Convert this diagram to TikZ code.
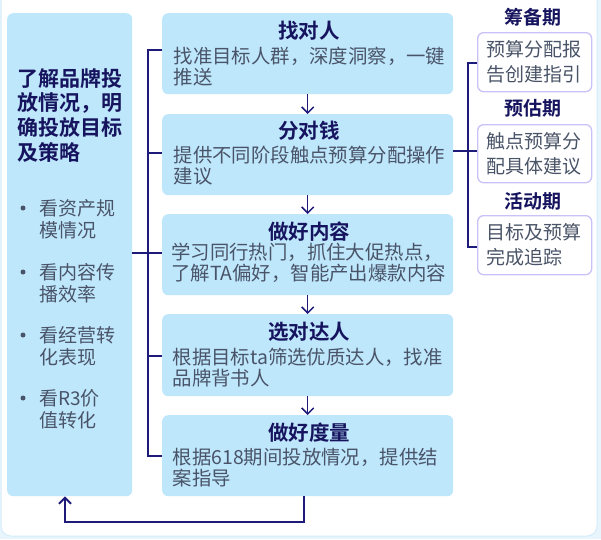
\documentclass[tikz,border=0pt]{standalone}
\usepackage{fontspec}
\setmainfont{Noto Sans CJK SC}[BoldFont={Noto Sans CJK SC Bold}]
\usetikzlibrary{arrows.meta}

\definecolor{pagebg}{HTML}{E8F5FD}
\definecolor{cardedge}{HTML}{D4ECFA}
\definecolor{boxfill}{HTML}{BEE7FC}
\definecolor{navy}{HTML}{1E1A7A}
\definecolor{titlenavy}{HTML}{16145E}
\definecolor{bodygray}{HTML}{4A5468}
\definecolor{lavender}{HTML}{C9C1F7}

\tikzset{
  panel/.style={fill=boxfill, draw=none, rounded corners=6pt, inner sep=0pt, anchor=north west},
  phasebox/.style={fill=white, draw=lavender, line width=1.3pt, rounded corners=6pt, inner sep=0pt, anchor=north west},
  link/.style={draw=navy, line width=1.8pt},
  flowarrow/.style={draw=navy, line width=1.5pt, -{Straight Barb[length=6pt,width=12pt]}},
  backarrow/.style={draw=navy, line width=1.9pt, -{Straight Barb[length=6pt,width=12pt]}},
  bodytext/.style={inner sep=0pt, anchor=base west, text width=300pt, align=left, text=bodygray,
    font=\fontsize{19.4}{21.5}\selectfont},
  steptitle/.style={inner sep=0pt, anchor=base, text=titlenavy, font=\fontsize{20.5}{24}\selectfont\bfseries},
  phasetitle/.style={inner sep=0pt, anchor=base, text=titlenavy, font=\fontsize{19}{24}\selectfont\bfseries},
  phasetext/.style={inner sep=0pt, anchor=base west, text width=110pt, align=left, text=bodygray,
    font=\fontsize{19}{25}\selectfont},
  leadtitle/.style={inner sep=0pt, anchor=base west, text width=120pt, align=left, text=titlenavy,
    font=\fontsize{21}{24.7}\selectfont\bfseries},
  bullettext/.style={inner sep=0pt, anchor=base west, text width=100pt, align=left, text=bodygray,
    font=\fontsize{19}{22}\selectfont},
  dot/.style={circle, fill=bodygray, inner sep=0pt, minimum size=5pt},
}

\begin{document}
\begin{tikzpicture}[x=1pt, y=-1pt]
  \useasboundingbox (0,0) rectangle (601,539);
  \fill[pagebg] (0,0) rectangle (601,539);
  \draw[cardedge, fill=white, rounded corners=10pt, line width=1pt] (1,-12) rectangle (597,536);

  % left summary panel
  \node[panel, minimum width=125pt, minimum height=483pt] (L) at (7,13) {};
  \node[leadtitle] (Lt) at (17,86) {了解品牌投\\放情况，明\\确投放目标\\及策略};
  \node[dot] (d1) at (23,208) {};
  \node[bullettext] (b1) at (39,215) {看资产规\\模情况};
  \node[dot] (d2) at (23,272) {};
  \node[bullettext] (b2) at (39,279) {看内容传\\播效率};
  \node[dot] (d3) at (23,335) {};
  \node[bullettext] (b3) at (39,342) {看经营转\\化表现};
  \node[dot] (d4) at (23,398) {};
  \node[bullettext] (b4) at (39,405) {看R3价\\值转化};

  % five steps
  \node[panel, minimum width=291pt, minimum height=81pt] (m1) at (162,13) {};
  \node[panel, minimum width=291pt, minimum height=81pt] (m2) at (162,114) {};
  \node[panel, minimum width=291pt, minimum height=81pt] (m3) at (162,214) {};
  \node[panel, minimum width=291pt, minimum height=82pt] (m4) at (162,314) {};
  \node[panel, minimum width=291pt, minimum height=81pt] (m5) at (162,415) {};

  \node[steptitle] (t1) at (309,38.5) {找对人};
  \node[bodytext] (x1) at (173.5,63) {找准目标人群，深度洞察，一键\\推送};
  \node[steptitle] (t2) at (309,138.5) {分对钱};
  \node[bodytext] (x2) at (173.5,162) {提供不同阶段触点预算分配操作\\建议};
  \node[steptitle] (t3) at (309,239) {做好内容};
  \node[bodytext] (x3) at (171,259) {学习同行热门，抓住大促热点，\\了解TA偏好，智能产出爆款内容};
  \node[steptitle] (t4) at (309,339.5) {选对达人};
  \node[bodytext] (x4) at (172.5,364) {根据目标ta筛选优质达人，找准\\品牌背书人};
  \node[steptitle] (t5) at (309,440.5) {做好度量};
  \node[bodytext] (x5) at (172.5,464) {根据618期间投放情况，提供结\\案指导};

  \draw[flowarrow] (m1.south) -- (m2.north);
  \draw[flowarrow] (m2.south) -- (m3.north);
  \draw[flowarrow] (m3.south) -- (m4.north);
  \draw[flowarrow] (m4.south) -- (m5.north);

  % bus joining the panel to the steps
  \coordinate (busTop) at (148,50);
  \coordinate (busBot) at (148,456);
  \draw[link] (m1.west |- busTop) -- (busTop) -- (busBot) -- (m5.west |- busBot);
  \draw[link] (148,153) -- (m2.west |- 0,153);
  \draw[link] (L.east |- 0,253) -- (m3.west |- 0,253);
  \draw[link] (148,356) -- (m4.west |- 0,356);

  % phases
  \node[phasetitle] (p1) at (533,24) {筹备期};
  \node[phasebox, minimum width=114pt, minimum height=59pt] (ra) at (477,32) {};
  \node[phasetext] (r1) at (486,56) {预算分配报\\告创建指引};
  \node[phasetitle] (p2) at (533,115) {预估期};
  \node[phasebox, minimum width=114pt, minimum height=58pt] (rb) at (477,124) {};
  \node[phasetext] (r2) at (486,148) {触点预算分\\配具体建议};
  \node[phasetitle] (p3) at (533,208) {活动期};
  \node[phasebox, minimum width=114pt, minimum height=59pt] (rc) at (477,215) {};
  \node[phasetext] (r3) at (486,239) {目标及预算\\完成追踪};

  \coordinate (rbusTop) at (468,63);
  \coordinate (rbusBot) at (468,247);
  \draw[link] (ra.west |- rbusTop) -- (rbusTop) -- (rbusBot) -- (rc.west |- rbusBot);
  \draw[link] (m2.east |- 0,151) -- (rb.west |- 0,151);

  % loop back to the panel
  \draw[backarrow] (m5.south -| 304,0) -- (304,522) -| (L.south -| 65,0);
\end{tikzpicture}
\end{document}
